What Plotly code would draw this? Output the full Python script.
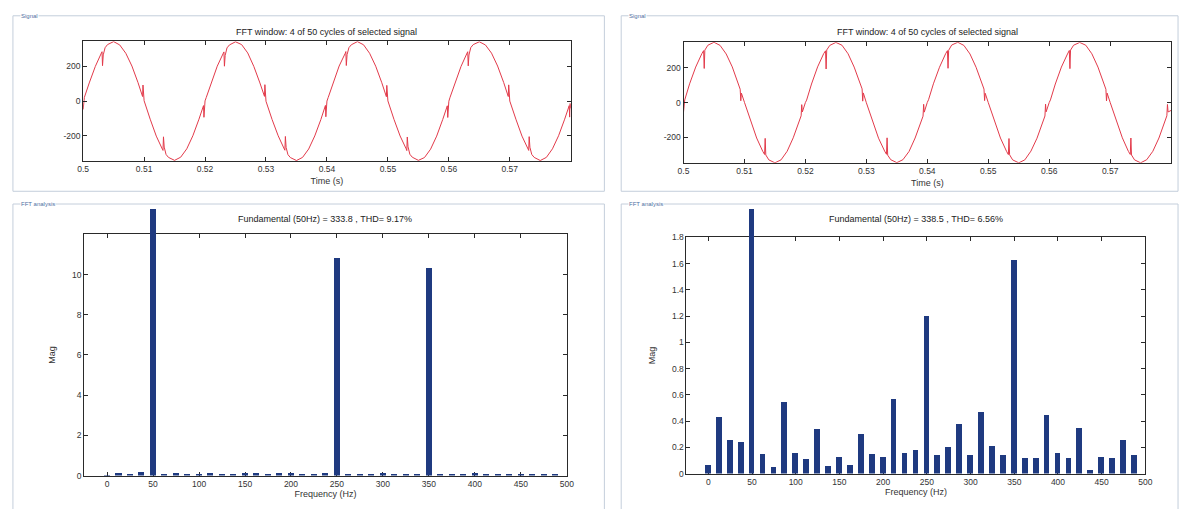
import numpy as np
import plotly.graph_objects as go

W, H = 1188, 509

# ---------------- data ----------------
# Signal window: sample times every 1 ms (0.500 ... 0.580 s)
time_start, time_stop, time_step = 0.500, 0.580, 0.001

sig_left_base = [
    -48, 104, 199, 276, 324, 341, 322, 274, 201, 106, 2, -104, -201, -276, -323, -340, -322, -274, -199, -104,
    1, 106, 200, 275, 322, 340, 324, 276, 199, 104, -1, -106, -199, -275, -324, -341, -323, -275, -200, -106,
    0, 105, 201, 274, 323, 341, 323, 274, 200, 105, 1, -105, -200, -274, -322, -340, -324, -276, -201, -105,
    -1, 104, 199, 276, 324, 340, 322, 275, 201, 106, 0, -104, -201, -275, -323, -341, -323, -274, -199, -104,
    -42,
]
sig_right_base = [
    -55, 107, 203, 279, 328, 345, 327, 278, 204, 106, 1, -107, -203, -279, -328, -345, -328, -279, -202, -107,
    0, 106, 204, 280, 327, 344, 328, 279, 203, 107, -1, -106, -204, -278, -327, -344, -327, -280, -203, -106,
    1, 107, 202, 279, 329, 345, 327, 278, 202, 106, 0, -107, -203, -279, -328, -345, -328, -278, -204, -107,
    0, 106, 203, 278, 328, 344, 328, 279, 203, 107, 1, -106, -202, -280, -328, -345, -327, -279, -203, -106,
    -45,
]

# commutation notches: time offsets (ms) inside each 20 ms cycle, and values read per cycle
cycle_starts = [0.50, 0.52, 0.54, 0.56]
notch_left_ms = [0.2, 3.1, 3.18, 3.3, 3.6, 9.6, 9.75, 9.82, 9.9, 13.1, 13.18, 13.3, 13.6, 19.6, 19.75, 19.82, 19.9]
notch_left_vals = [
    [21, 283, 203, 265, 306, 43, 26, 92, 14, -283, -205, -264, -306, -43, -26, -93, -14],
    [21, 282, 200, 262, 305, 44, 27, 94, 15, -282, -203, -266, -307, -42, -25, -90, -13],
    [20, 284, 204, 266, 306, 42, 25, 90, 13, -284, -206, -262, -305, -44, -27, -94, -15],
    [22, 283, 202, 264, 307, 43, 26, 93, 14, -283, -204, -265, -306, -43, -26, -92, -14],
]
notch_right_ms = [0.2, 3.3, 3.4, 3.5, 9.3, 9.4, 9.5, 13.3, 13.4, 13.5, 19.3, 19.4, 19.5]
notch_right_vals = [
    [15, 297, 195, 300, 76, 10, 54, -297, -205, -300, -76, -12, -54],
    [14, 296, 192, 301, 78, 8, 55, -296, -202, -301, -78, -10, -55],
    [16, 297, 196, 299, 77, 11, 53, -298, -206, -299, -77, -9, -53],
    [15, 298, 194, 300, 76, 9, 54, -297, -203, -300, -76, -11, -54],
]

# FFT spectra (12.5 Hz resolution)
freq_hz = [0, 12.5, 25, 37.5, 50, 62.5, 75, 87.5, 100, 112.5, 125, 137.5, 150, 162.5, 175, 187.5,
           200, 212.5, 225, 237.5, 250, 262.5, 275, 287.5, 300, 312.5, 325, 337.5, 350, 362.5,
           375, 387.5, 400, 412.5, 425, 437.5, 450, 462.5, 475, 487.5]
mag_left = [0.03, 0.13, 0.08, 0.20, 333.8, 0.08, 0.11, 0.08, 0.08, 0.11, 0.08, 0.10, 0.11, 0.13,
            0.05, 0.13, 0.11, 0.08, 0.07, 0.13, 10.83, 0.07, 0.07, 0.07, 0.13, 0.08, 0.05, 0.05,
            10.33, 0.08, 0.05, 0.10, 0.11, 0.07, 0.07, 0.10, 0.07, 0.05, 0.05, 0.10]
mag_right = [0.07, 0.43, 0.26, 0.24, 338.5, 0.15, 0.05, 0.55, 0.16, 0.11, 0.34, 0.06, 0.13, 0.07,
             0.30, 0.15, 0.13, 0.57, 0.16, 0.18, 1.20, 0.14, 0.20, 0.38, 0.14, 0.47, 0.21, 0.14,
             1.63, 0.12, 0.12, 0.45, 0.16, 0.12, 0.35, 0.03, 0.13, 0.12, 0.26, 0.14]

time_ticks = [0.5, 0.51, 0.52, 0.53, 0.54, 0.55, 0.56, 0.57]
time_tick_text = ["0.5", "0.51", "0.52", "0.53", "0.54", "0.55", "0.56", "0.57"]
signal_ticks = [-200, 0, 200]
signal_tick_text = ["-200", "0", "200"]
freq_ticks = [0, 50, 100, 150, 200, 250, 300, 350, 400, 450, 500]
mag_ticks_left = [0, 2, 4, 6, 8, 10]
mag_ticks_right = [0, 0.2, 0.4, 0.6, 0.8, 1, 1.2, 1.4, 1.6, 1.8]

title_signal = "FFT window: 4 of 50 cycles of selected signal"
title_fft_left = "Fundamental (50Hz) = 333.8 , THD= 9.17%"
title_fft_right = "Fundamental (50Hz) = 338.5 , THD= 6.56%"

# ---------------- helpers ----------------
def xd(a, b):
    return [a / W, b / W]

def yd(top, bottom):
    return [1 - bottom / H, 1 - top / H]

def build_signal(base, offsets_ms, vals):
    n = len(base)
    t = list(np.round(time_start + np.arange(n) * time_step, 6))
    v = list(base)
    for c, row in zip(cycle_starts, vals):
        for off, val in zip(offsets_ms, row):
            t.append(round(c + off / 1000.0, 6))
            v.append(val)
    order = np.argsort(t, kind="stable")
    return [t[i] for i in order], [v[i] for i in order]

tl, vl = build_signal(sig_left_base, notch_left_ms, notch_left_vals)
tr, vr = build_signal(sig_right_base, notch_right_ms, notch_right_vals)

FONT = "Liberation Sans Narrow, Liberation Sans, Arial, sans-serif"
RED = "#e23a4a"
NAVY = "#1f3a80"
AX = "#2a2a2a"

# axis pixel boxes: (left, right, top, bottom)
box_sig_l = (78, 571, 37, 159)
box_sig_r = (685, 1178, 38, 161)
box_fft_l = (79, 567, 234, 480)
box_fft_r = (688, 1152, 237, 478)
y_range_fft_l = [0, 12]
y_range_fft_r = [0, 1.8]
bar_clip_px = 208   # panel top, where the out-of-scale fundamental bar is cut


def extended_range(box, yr, clip_px):
    # same units-per-pixel as the visible axis, but reaching up to the panel top
    _, _, top, bottom = box
    return [0, yr[1] * (bottom - clip_px) / (bottom - top)]

ext_l = extended_range(box_fft_l, y_range_fft_l, bar_clip_px)
ext_r = extended_range(box_fft_r, y_range_fft_r, bar_clip_px)

fig = go.Figure()

fig.add_trace(go.Scatter(x=tl, y=vl, mode="lines", line=dict(color=RED, width=1),
                         xaxis="x", yaxis="y", showlegend=False))
fig.add_trace(go.Scatter(x=tr, y=vr, mode="lines", line=dict(color=RED, width=1),
                         xaxis="x2", yaxis="y2", showlegend=False))
# empty traces to hold the visible FFT axes
fig.add_trace(go.Scatter(x=[], y=[], xaxis="x3", yaxis="y3", showlegend=False))
fig.add_trace(go.Scatter(x=[], y=[], xaxis="x4", yaxis="y4", showlegend=False))
# bars drawn on hidden axes with identical scale that extend to the panel top
fig.add_trace(go.Bar(x=freq_hz, y=[min(m, ext_l[1]) for m in mag_left], customdata=mag_left,
                     hovertemplate="%{x} Hz: %{customdata}<extra></extra>",
                     width=6.6, marker=dict(color=NAVY, line=dict(width=0)),
                     xaxis="x3", yaxis="y5", showlegend=False))
fig.add_trace(go.Bar(x=freq_hz, y=[min(m, ext_r[1]) for m in mag_right], customdata=mag_right,
                     hovertemplate="%{x} Hz: %{customdata}<extra></extra>",
                     width=6.6, marker=dict(color=NAVY, line=dict(width=0)),
                     xaxis="x4", yaxis="y6", showlegend=False))

tickfont = dict(family=FONT, size=8.5, color="#333")
titlefont = dict(family=FONT, size=9, color="#333")


def axis(box, horizontal, rng, tickvals, anchor, title=None, standoff=None, ticktext=None):
    l, r, t, b = box
    d = dict(
        domain=xd(l, r) if horizontal else yd(t, b),
        range=rng, tickvals=tickvals, anchor=anchor,
        showline=True, linecolor=AX, linewidth=1, mirror="ticks",
        ticks="inside", ticklen=4, tickcolor=AX, tickwidth=1,
        showgrid=False, zeroline=False, tickfont=tickfont, fixedrange=True,
    )
    if ticktext is not None:
        d["ticktext"] = ticktext
    if title:
        d["title"] = dict(text=title, font=titlefont, standoff=standoff)
    return d


def hidden_axis(box, clip_px, rng, anchor):
    l, r, t, b = box
    return dict(domain=yd(clip_px, b), range=rng, anchor=anchor, visible=False,
                showgrid=False, zeroline=False, fixedrange=True)


layout = dict(
    width=W, height=H, margin=dict(l=0, r=0, t=0, b=0),
    paper_bgcolor="white", plot_bgcolor="rgba(0,0,0,0)", bargap=0,
    xaxis=axis(box_sig_l, True, [0.5, 0.58], time_ticks, "y", "Time (s)", 4, time_tick_text),
    yaxis=axis(box_sig_l, False, [-343, 343], signal_ticks, "x", ticktext=signal_tick_text),
    xaxis2=axis(box_sig_r, True, [0.5, 0.58], time_ticks, "y2", "Time (s)", 4, time_tick_text),
    yaxis2=axis(box_sig_r, False, [-345, 345], signal_ticks, "x2", ticktext=signal_tick_text),
    xaxis3=axis(box_fft_l, True, [-25, 500], freq_ticks, "y3", "Frequency (Hz)", 2),
    yaxis3=axis(box_fft_l, False, y_range_fft_l, mag_ticks_left, "x3", "Mag", 14),
    xaxis4=axis(box_fft_r, True, [-25, 500], freq_ticks, "y4", "Frequency (Hz)", 2),
    yaxis4=axis(box_fft_r, False, y_range_fft_r, mag_ticks_right, "x4", "Mag", 14),
    yaxis5=hidden_axis(box_fft_l, bar_clip_px, ext_l, "x3"),
    yaxis6=hidden_axis(box_fft_r, bar_clip_px, ext_r, "x4"),
)
fig.update_layout(**layout)

# group boxes (panel frames)
FRAME = "#c4cedb"
frames = [(7, 605, 11, 190), (7, 605, 203, 520), (622, 1185, 11, 190), (622, 1185, 203, 520)]
for (l, r, t, b) in frames:
    fig.add_shape(type="rect", xref="paper", yref="paper",
                  x0=l / W, x1=r / W, y0=1 - b / H, y1=1 - t / H,
                  line=dict(color=FRAME, width=1), layer="below")

labels = [("Signal", 14, 11), ("FFT analysis", 14, 203), ("Signal", 629, 11), ("FFT analysis", 629, 203)]
for text, x, y in labels:
    fig.add_annotation(text=text, xref="paper", yref="paper", x=x / W, y=1 - y / H,
                       xanchor="left", yanchor="middle", showarrow=False,
                       font=dict(family=FONT, size=6, color="#4f6fa3"), bgcolor="white",
                       borderpad=0)

# axes titles
for text, box, y in [(title_signal, box_sig_l, 28), (title_signal, box_sig_r, 28),
                     (title_fft_left, box_fft_l, 218), (title_fft_right, box_fft_r, 218)]:
    l, r, _, _ = box
    fig.add_annotation(text=text, xref="paper", yref="paper", x=(l + r) / 2 / W, y=1 - y / H,
                       xanchor="center", yanchor="middle", showarrow=False,
                       font=dict(family=FONT, size=9, color="#222"))

fig.write_html("out.html",
               config={"displayModeBar": False},
               post_script="document.body.style.margin='0';document.body.style.padding='0';")
